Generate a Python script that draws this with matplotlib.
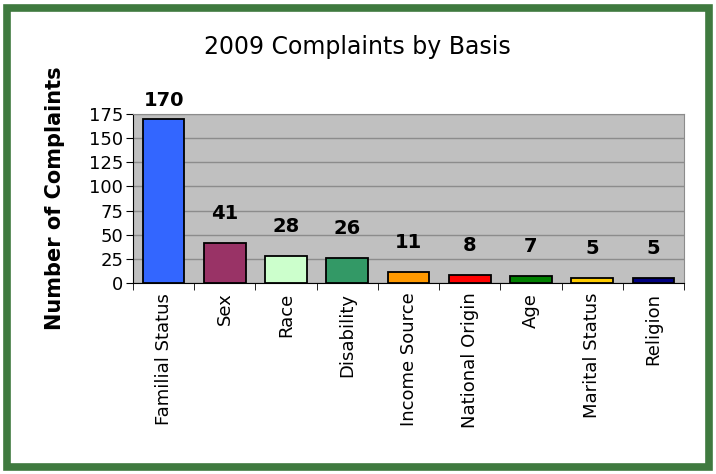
import matplotlib.pyplot as plt
from matplotlib.patches import Rectangle
import numpy as np

# data
bases = ['Familial Status', 'Sex', 'Race', 'Disability', 'Income Source',
         'National Origin', 'Age', 'Marital Status', 'Religion']
counts = [170, 41, 28, 26, 11, 8, 7, 5, 5]
colors = ['#3366FF', '#993366', '#CCFFCC', '#339966', '#FF9900',
          '#FF0000', '#008000', '#FFCC00', '#000080']
yticks = [0, 25, 50, 75, 100, 125, 150, 175]

W, H = 716, 474
fig = plt.figure(figsize=(W / 100, H / 100), dpi=100)
fig.patch.set_facecolor('white')

# green frame round the whole chart
fig.patches.append(Rectangle((7 / W, 7 / H), (W - 14) / W, (H - 15) / H,
                             transform=fig.transFigure, fill=False,
                             edgecolor='#3F7A3F', linewidth=5.5))

# plot area in pixels: left 133, right 684, top 114, bottom 283
ax = fig.add_axes([133 / W, 1 - 283 / H, (684 - 133) / W, (283 - 114) / H])
ax.set_facecolor('#C0C0C0')

x = np.arange(len(bases))
ax.bar(x, counts, width=0.68, color=colors, edgecolor='black', linewidth=1.3, zorder=3)

ax.set_xlim(-0.5, len(bases) - 0.5)
ax.set_ylim(0, 175)
ax.set_yticks(yticks)
ax.yaxis.grid(True, color='#8C8C8C', linewidth=1, zorder=0)
ax.set_axisbelow(True)

for xi, v in zip(x, counts):
    ax.text(xi, min(v + 21, 179), str(v), ha='center', va='bottom',
            fontsize=14, fontweight='bold', clip_on=False)

ax.set_xticks(x)
ax.set_xticklabels(bases, rotation=90, fontsize=13)
ax.set_xticks(np.arange(len(bases) + 1) - 0.5, minor=True)
ax.tick_params(axis='x', which='major', length=0, pad=7)
ax.tick_params(axis='x', which='minor', length=5, direction='out', color='black')
ax.tick_params(axis='y', length=5, direction='out', labelsize=13, pad=2)

for side in ['top', 'right']:
    ax.spines[side].set_color('#8C8C8C')
ax.spines['left'].set_color('black')
ax.spines['bottom'].set_color('black')

ax.set_ylabel('Number of Complaints', fontsize=15, fontweight='bold', labelpad=17)
fig.text(357 / W, 1 - 47 / H, '2009 Complaints by Basis', ha='center', va='center',
         fontsize=17)

fig.savefig('out.png', dpi=100)
